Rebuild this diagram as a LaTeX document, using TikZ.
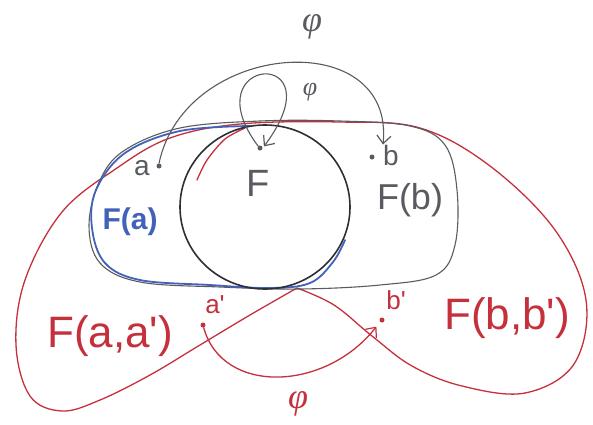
\documentclass[tikz,border=0pt]{standalone}
\usepackage{fontspec}
\setmainfont{Liberation Sans}
\newfontfamily\phifont{Liberation Serif}
\usetikzlibrary{arrows.meta}
\definecolor{pencil}{HTML}{5A5A60}
\definecolor{ink}{HTML}{2E2E34}
\definecolor{bluepen}{HTML}{4262BA}
\definecolor{redpen}{HTML}{C4303C}
\tikzset{
  pencilline/.style={draw=pencil, line width=1.1pt, line cap=round, line join=round},
  circline/.style={draw=ink, line width=1.6pt},
  blueline/.style={draw=bluepen, line width=1.8pt, line cap=round, line join=round},
  redline/.style={draw=redpen, line width=1.3pt, line cap=round, line join=round},
  dotmark/.style={circle, fill=#1, inner sep=0pt, minimum size=5pt},
  lbl/.style={inner sep=0pt, text=#1},
  barb/.style={-{Straight Barb[length=8pt, width=14pt, line width=1.2pt]}},
}
\begin{document}
\begin{tikzpicture}[x=1pt,y=-1pt]
\useasboundingbox (0,0) rectangle (593,424);
% red outline F(a,a') / F(b,b')
\draw[redline] plot[smooth, tension=0.6] coordinates {
  (297,288) (250,315) (200,345) (150,375) (100,400) (62,411) (30,396) (16,345)
  (25,280) (62,212) (117,168) (170,138) (240,124) (340,122) (420,128) (490,166)
  (555,230) (586,300) (574,364) (525,393) (462,386) (412,366) (372,336) (334,305) (297,288)};
\draw[redline] plot[smooth] coordinates {(245,128) (225,139) (207,160) (197,180)};
% grey outline F(b)
\draw[pencilline] plot[smooth cycle, tension=0.6] coordinates {
  (125,150) (180,128) (260,121) (340,121) (410,126) (445,145) (457,190) (455,245)
  (436,275) (380,285) (300,289) (220,287) (140,282) (100,263) (89,225) (100,180)};
% blue F(a)
\draw[blueline] plot[smooth, tension=0.6] coordinates {
  (250,126) (180,131) (125,153) (96,190) (92,228) (105,263) (140,280) (210,285)
  (270,288) (310,283) (333,262) (345,240)};
% circle F
\draw[circline] (265,207) ellipse [x radius=85pt, y radius=82pt];

% points and labels
\node[dotmark=pencil] (a) at (159,166) {};
\node[lbl=pencil, font=\fontsize{28}{28}\selectfont] (alab) at (142,168) {a};
\node[dotmark=pencil] (b) at (372,157) {};
\node[lbl=pencil, font=\fontsize{28}{28}\selectfont] (blab) at (391,155) {b};
\node[dotmark=pencil] (f) at (260,148) {};
\node[lbl=pencil, font=\fontsize{38}{38}\selectfont] (flab) at (258,183) {F};
\node[lbl=pencil, font=\fontsize{36}{36}\selectfont] (fb) at (410,200) {F(b)};
\node[lbl=bluepen, font=\fontsize{30}{30}\selectfont\bfseries] (fa) at (130,222) {F(a)};
\node[lbl=redpen, font=\fontsize{44}{44}\selectfont] (faa) at (110,336) {F(a,a\textquotesingle)};
\node[lbl=redpen, font=\fontsize{44}{44}\selectfont] (fbb) at (507,318) {F(b,b\textquotesingle)};
\node[dotmark=redpen] (ap) at (203,325) {};
\node[lbl=redpen, font=\fontsize{26}{26}\selectfont] (aplab) at (215,305) {a\textquotesingle};
\node[dotmark=redpen] (bp) at (382,320) {};
\node[lbl=redpen, font=\fontsize{26}{26}\selectfont] (bplab) at (396,300) {b\textquotesingle};

% arrows
\draw[pencilline, barb] (a.north) .. controls (185,40) and (395,25) .. (blab.north west);
\node[lbl=pencil, font=\phifont\itshape\fontsize{36}{36}\selectfont] (phitop) at (312,27) {φ};
\draw[pencilline, barb, shorten >=2pt] (f.north west) .. controls (190,55) and (340,45) .. (f.east);
\node[lbl=pencil, font=\phifont\itshape\fontsize{26}{26}\selectfont] (philoop) at (310,92) {φ};
\draw[redline, barb, shorten >=6pt] (ap) .. controls (222,395) and (325,392) .. (bp.south west);
\node[lbl=redpen, font=\phifont\itshape\fontsize{36}{36}\selectfont] (phibot) at (298,404) {φ};
\end{tikzpicture}
\end{document}
